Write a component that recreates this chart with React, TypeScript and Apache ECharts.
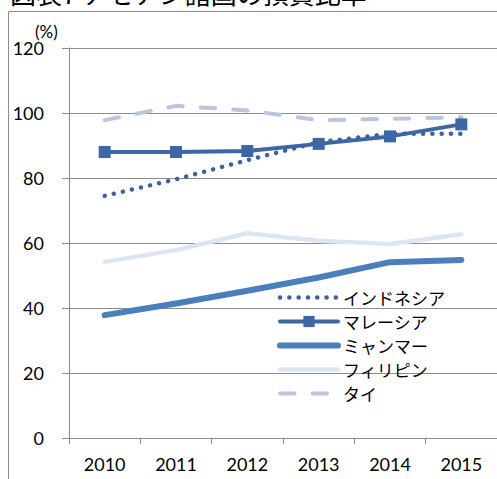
import { useEffect, useRef } from "react";
import * as echarts from "echarts";

// Loan-to-deposit ratio (%) of ASEAN countries, 2010–2015
const years = ["2010", "2011", "2012", "2013", "2014", "2015"];
const seriesNames = ["インドネシア", "マレーシア", "ミャンマー", "フィリピン", "タイ"];
const indonesia = [74.5, 79.6, 85.5, 91.0, 93.6, 93.6];
const malaysia = [88.0, 88.0, 88.3, 90.5, 92.8, 96.5];
const myanmar = [37.8, 41.4, 45.3, 49.4, 54.1, 54.8];
const philippines = [54.2, 57.8, 63.0, 60.7, 59.7, 62.7];
const thailand = [97.8, 102.2, 100.8, 97.8, 98.2, 98.7];
const yMin = 0;
const yMax = 120;
const yStep = 20;

const titleText = "図表7 アセアン諸国の預貸比率";
const unitText = "(%)";

const GRAY = "#8c8c8c";
const NUM_FONT = "Lato, 'Liberation Sans', sans-serif";
const JP_FONT = "'Noto Sans CJK JP', sans-serif";

// per-series line styling, shared by the plotted line and its legend icon
const styles = [
  { color: "#3b63a0", width: 4.5, type: [0.1, 9.2] as number[] | "solid", marker: false },
  { color: "#3d66a5", width: 4, type: "solid" as number[] | "solid", marker: true },
  { color: "#4a7ebd", width: 6, type: "solid" as number[] | "solid", marker: false },
  { color: "#dce6f2", width: 4.5, type: "solid" as number[] | "solid", marker: false },
  { color: "#b8c6de", width: 4, type: [14.5, 18] as number[] | "solid", marker: false },
];

export default function App() {
  const ref = useRef<HTMLDivElement>(null);

  useEffect(() => {
    if (!ref.current) return;
    const chart = echarts.init(ref.current, null, { renderer: "svg" });
    const values = [indonesia, malaysia, myanmar, philippines, thailand];

    const option: echarts.EChartsOption = {
      animation: false,
      backgroundColor: "#ffffff",
      grid: { left: 69, top: 48, width: 441, height: 390, containLabel: false },
      xAxis: {
        type: "category",
        data: years,
        boundaryGap: true,
        axisLine: { show: true, lineStyle: { color: GRAY, width: 1 } },
        axisTick: { show: true, inside: false, length: 6, alignWithLabel: false, lineStyle: { color: GRAY } },
        axisLabel: { color: "#000", fontFamily: NUM_FONT, fontSize: 18, margin: 17 },
        splitLine: { show: false },
      },
      yAxis: {
        type: "value",
        min: yMin,
        max: yMax,
        interval: yStep,
        axisLine: { show: true, lineStyle: { color: GRAY, width: 1 } },
        axisTick: { show: true, inside: false, length: 7, lineStyle: { color: GRAY } },
        axisLabel: { color: "#000", fontFamily: NUM_FONT, fontSize: 18, margin: 25 },
        splitLine: { show: true, lineStyle: { color: GRAY, width: 1 } },
      },
      legend: {
        orient: "vertical",
        left: 277,
        top: 289,
        itemWidth: 58,
        itemHeight: 14,
        itemGap: 7,
        padding: 0,
        data: seriesNames.map((name, i) => ({
          name,
          lineStyle: { width: styles[i].width, cap: "round" },
          itemStyle: styles[i].marker
            ? { color: styles[i].color }
            : { color: "transparent", opacity: 0, borderWidth: 0 },
        })),
        textStyle: { color: "#000", fontFamily: JP_FONT, fontSize: 17 },
      },
      graphic: [
        {
          type: "rect",
          shape: { x: 8.5, y: 11.5, width: 600, height: 600 },
          style: { fill: "none", stroke: GRAY, lineWidth: 1 },
          silent: true,
          z: -1,
        },
        {
          type: "text",
          x: 10,
          y: 5,
          style: {
            text: titleText,
            fontFamily: JP_FONT,
            fontSize: 26,
            fill: "#000",
            verticalAlign: "bottom",
          },
        },
        {
          type: "text",
          x: 35,
          y: 23,
          style: {
            text: unitText,
            fontFamily: NUM_FONT,
            fontSize: 17,
            fill: "#000",
            verticalAlign: "top",
          },
        },
      ],
      series: seriesNames.map((name, i) => ({
        name,
        type: "line" as const,
        data: values[i],
        symbol: styles[i].marker ? "rect" : "none",
        symbolSize: 12,
        lineStyle: {
          color: styles[i].color,
          width: styles[i].width,
          type: styles[i].type,
          cap: styles[i].marker ? "butt" : "round",
          join: "round",
        },
        itemStyle: { color: styles[i].color },
      })),
    };

    chart.setOption(option);
    return () => chart.dispose();
  }, []);

  return (
    <div
      ref={ref}
      style={{ position: "absolute", left: 0, top: 0, width: 497, height: 479 }}
    />
  );
}
